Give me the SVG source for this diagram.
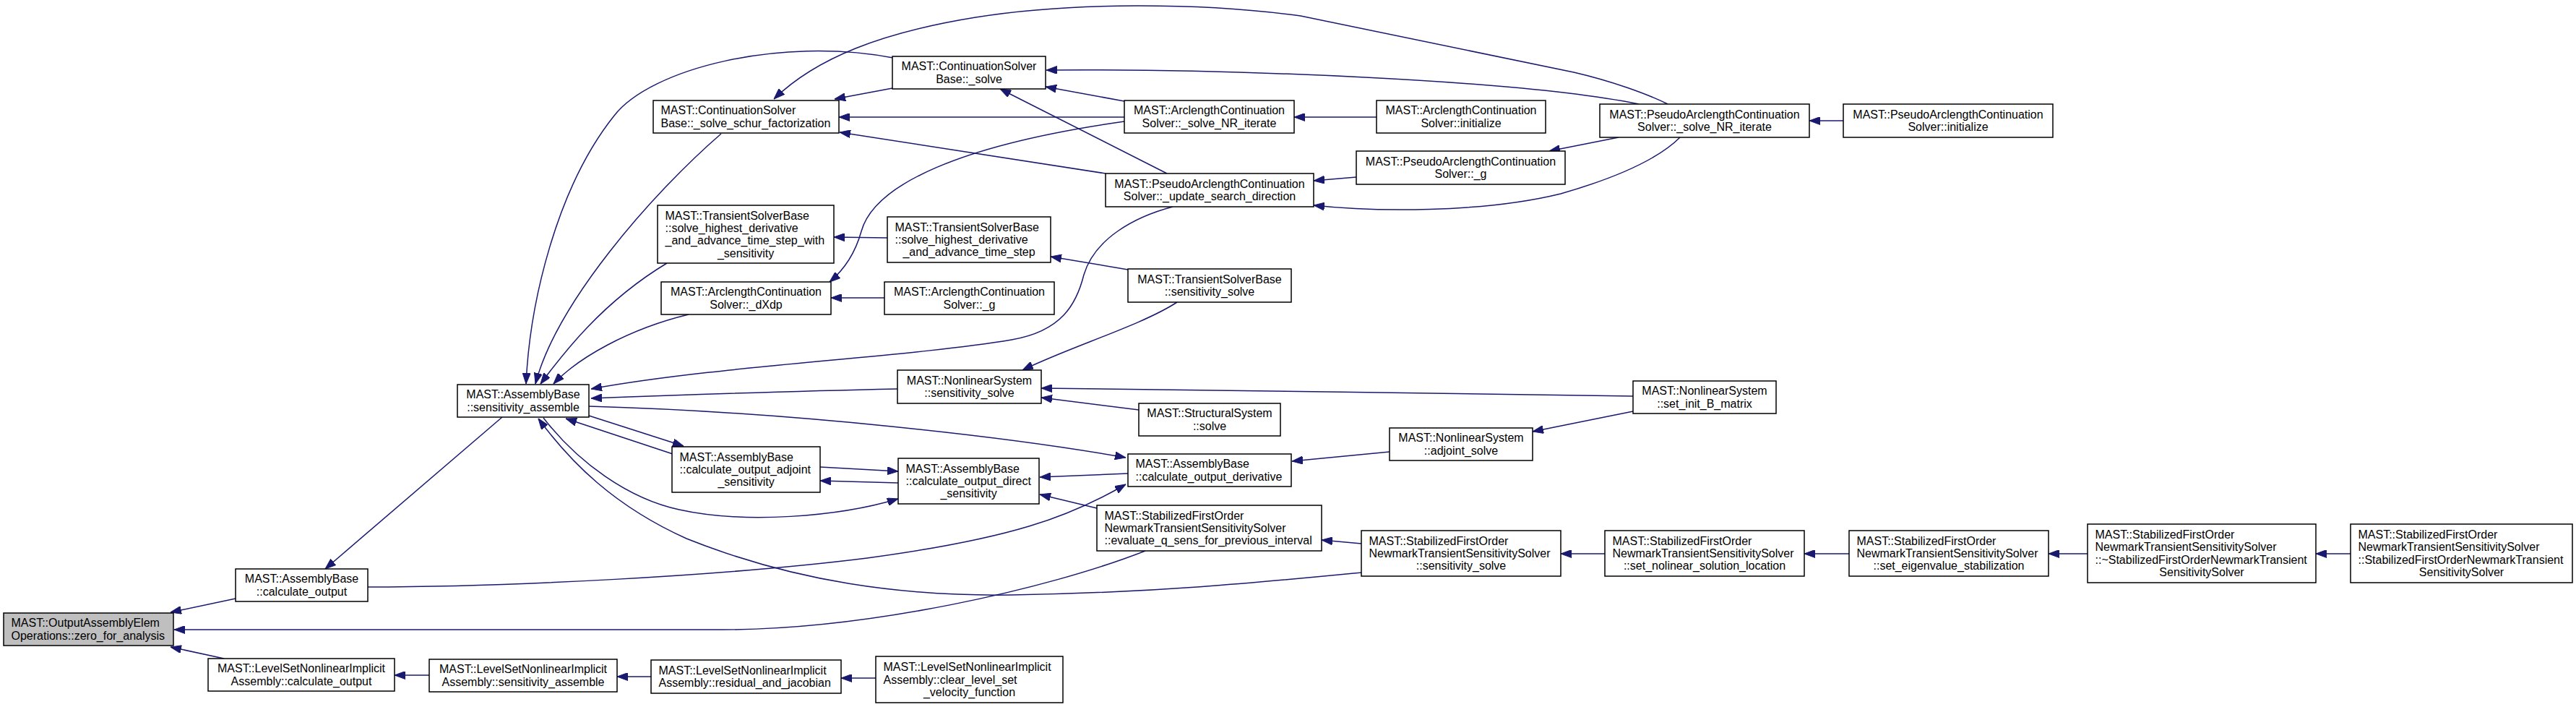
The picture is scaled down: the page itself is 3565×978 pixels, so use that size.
<svg xmlns="http://www.w3.org/2000/svg" width="3565" height="978" viewBox="0 0 3565 978">
<style>
.node rect{fill:#ffffff;stroke:#000000;stroke-width:1.5}
.main rect{fill:#bfbfbf}
text{font-family:"Liberation Sans",Arial,Helvetica,sans-serif;font-size:16px;fill:#000000}
.l{text-anchor:start}
.c{text-anchor:middle}
.edges path{fill:none;stroke:#191970;stroke-width:1.5;marker-start:url(#ah)}
</style>
<defs>
<marker id="ah" markerUnits="userSpaceOnUse" viewBox="0 0 15 11" markerWidth="15" markerHeight="11" refX="15" refY="5.5" orient="auto-start-reverse">
<path d="M0,0 L15,5.5 L0,11 z" fill="#191970" stroke="#191970" stroke-width="1"/>
</marker>
</defs>
<rect width="3565" height="978" fill="#ffffff"/>
<g id="edges" class="edges">
<path d="M236,847 L326,828"/>
<path d="M241,871 L1000,871 C1200,871 1450,815 1585,762"/>
<path d="M236,895 L310,911"/>
<path d="M546,934 L594,934"/>
<path d="M854,936 L901,936"/>
<path d="M1164,938 L1212,938"/>
<path d="M450,787 L695,577"/>
<path d="M1558,670 C1480,715 1400,745 1200,772 C1000,797 700,812 509,812"/>
<path d="M728,531 C733,420 770,260 850,160 C900,95 1080,50 1236,80"/>
<path d="M741,531 C770,420 900,270 998,185"/>
<path d="M748,531 C775,495 830,420 923,364"/>
<path d="M766,531 C800,495 870,455 953,435"/>
<path d="M818,538 C1000,505 1250,495 1400,470 C1470,458 1490,420 1500,380 C1515,330 1570,300 1623,286"/>
<path d="M818,551 C950,546 1100,541 1242,538"/>
<path d="M1558,633 C1400,605 1100,570 815,562"/>
<path d="M946,617 L815,575"/>
<path d="M783,579 L931,628"/>
<path d="M1243,690 C1160,715 1030,725 940,705 C870,690 800,640 752,578"/>
<path d="M745,579 C790,640 850,700 950,745 C1100,805 1250,825 1400,823 C1600,820 1750,805 1884,792"/>
<path d="M1243,652 L1135,646"/>
<path d="M1135,665 L1243,668"/>
<path d="M1439,660 L1561,655"/>
<path d="M1439,684 L1518,703"/>
<path d="M1788,638 L1923,625"/>
<path d="M2121,597 L2260,569"/>
<path d="M1441,537 C1700,539 2000,545 2260,548"/>
<path d="M1441,550 L1576,567"/>
<path d="M1415,512 C1480,480 1580,450 1629,418"/>
<path d="M1454,355 L1561,373"/>
<path d="M1154,328 L1228,329"/>
<path d="M1148,390 C1172,370 1185,345 1192,320 C1210,255 1330,200 1556,168"/>
<path d="M1150,412 L1224,412"/>
<path d="M1155,137 L1235,122"/>
<path d="M1161,162 L1556,162"/>
<path d="M1162,183 L1530,240"/>
<path d="M1071,137 C1130,80 1220,45 1350,24 C1480,3 1660,3 1800,22 L2178,100 C2230,112 2280,130 2308,144"/>
<path d="M1448,97 C1700,95 2100,110 2268,144"/>
<path d="M1447,120 L1556,140"/>
<path d="M1384,123 L1615,240"/>
<path d="M1791,162 L1905,162"/>
<path d="M1818,250 L1877,245"/>
<path d="M1818,284 C1900,293 2050,295 2160,268 C2240,245 2295,220 2325,190"/>
<path d="M2144,209 L2240,190"/>
<path d="M2504,167 L2551,167"/>
<path d="M1829,747 L1884,752"/>
<path d="M2160,766 L2221,766"/>
<path d="M2497,766 L2559,766"/>
<path d="M2835,766 L2889,766"/>
<path d="M3205,766 L3253,766"/>
</g>
<g id="n_zero" class="node main"><rect x="5" y="848" width="235" height="45"/><text class="l" x="15.5" y="867.4">MAST::OutputAssemblyElem</text><text class="l" x="15.5" y="884.7">Operations::zero_for_analysis</text></g>
<g id="n_calc_out" class="node"><rect x="326" y="787" width="183" height="45"/><text class="c" x="417.5" y="806.4">MAST::AssemblyBase</text><text class="c" x="417.5" y="823.7">::calculate_output</text></g>
<g id="n_ls_calc" class="node"><rect x="288" y="911" width="258" height="45"/><text class="c" x="417" y="930.4">MAST::LevelSetNonlinearImplicit</text><text class="c" x="417" y="947.7">Assembly::calculate_output</text></g>
<g id="n_sens_asm" class="node"><rect x="633" y="532" width="182" height="45"/><text class="c" x="724" y="551.4">MAST::AssemblyBase</text><text class="c" x="724" y="568.7">::sensitivity_assemble</text></g>
<g id="n_ls_sens" class="node"><rect x="594" y="912" width="260" height="45"/><text class="c" x="724" y="931.4">MAST::LevelSetNonlinearImplicit</text><text class="c" x="724" y="948.7">Assembly::sensitivity_assemble</text></g>
<g id="n_schur" class="node"><rect x="904" y="139" width="257" height="45"/><text class="l" x="914.5" y="158.4">MAST::ContinuationSolver</text><text class="l" x="914.5" y="175.7">Base::_solve_schur_factorization</text></g>
<g id="n_tsb_wsens" class="node"><rect x="910" y="284" width="244" height="80"/><text class="l" x="920.5" y="303.6">MAST::TransientSolverBase</text><text class="l" x="920.5" y="320.9">::solve_highest_derivative</text><text class="l" x="920.5" y="338.2">_and_advance_time_step_with</text><text class="c" x="1032" y="355.5">_sensitivity</text></g>
<g id="n_dxdp" class="node"><rect x="915" y="390" width="235" height="45"/><text class="c" x="1032.5" y="409.4">MAST::ArclengthContinuation</text><text class="c" x="1032.5" y="426.7">Solver::_dXdp</text></g>
<g id="n_adj_sens" class="node"><rect x="930" y="618" width="205" height="63"/><text class="l" x="940.5" y="637.7">MAST::AssemblyBase</text><text class="l" x="940.5" y="655">::calculate_output_adjoint</text><text class="c" x="1032.5" y="672.3">_sensitivity</text></g>
<g id="n_ls_resid" class="node"><rect x="901" y="913" width="263" height="46"/><text class="l" x="911.5" y="932.9">MAST::LevelSetNonlinearImplicit</text><text class="l" x="911.5" y="950.2">Assembly::residual_and_jacobian</text></g>
<g id="n_solve" class="node"><rect x="1235" y="78" width="212" height="45"/><text class="c" x="1341" y="97.4">MAST::ContinuationSolver</text><text class="c" x="1341" y="114.7">Base::_solve</text></g>
<g id="n_tsb_adv" class="node"><rect x="1228" y="300" width="226" height="63"/><text class="l" x="1238.5" y="319.7">MAST::TransientSolverBase</text><text class="l" x="1238.5" y="337">::solve_highest_derivative</text><text class="c" x="1341" y="354.3">_and_advance_time_step</text></g>
<g id="n_arc_g" class="node"><rect x="1224" y="390" width="235" height="45"/><text class="c" x="1341.5" y="409.4">MAST::ArclengthContinuation</text><text class="c" x="1341.5" y="426.7">Solver::_g</text></g>
<g id="n_nls_sens" class="node"><rect x="1242" y="512" width="199" height="46"/><text class="c" x="1341.5" y="531.9">MAST::NonlinearSystem</text><text class="c" x="1341.5" y="549.2">::sensitivity_solve</text></g>
<g id="n_dir_sens" class="node"><rect x="1243" y="634" width="195" height="63"/><text class="l" x="1253.5" y="653.7">MAST::AssemblyBase</text><text class="l" x="1253.5" y="671">::calculate_output_direct</text><text class="c" x="1340.5" y="688.3">_sensitivity</text></g>
<g id="n_ls_clear" class="node"><rect x="1212" y="908" width="259" height="64"/><text class="l" x="1222.5" y="928.2">MAST::LevelSetNonlinearImplicit</text><text class="l" x="1222.5" y="945.5">Assembly::clear_level_set</text><text class="c" x="1341.5" y="962.8">_velocity_function</text></g>
<g id="n_arc_nr" class="node"><rect x="1556" y="139" width="235" height="45"/><text class="c" x="1673.5" y="158.4">MAST::ArclengthContinuation</text><text class="c" x="1673.5" y="175.7">Solver::_solve_NR_iterate</text></g>
<g id="n_pa_upd" class="node"><rect x="1530" y="240" width="288" height="46"/><text class="c" x="1674" y="259.9">MAST::PseudoArclengthContinuation</text><text class="c" x="1674" y="277.2">Solver::_update_search_direction</text></g>
<g id="n_tsb_sens" class="node"><rect x="1561" y="372" width="226" height="46"/><text class="c" x="1674" y="391.9">MAST::TransientSolverBase</text><text class="c" x="1674" y="409.2">::sensitivity_solve</text></g>
<g id="n_struct" class="node"><rect x="1576" y="558" width="196" height="45"/><text class="c" x="1674" y="577.4">MAST::StructuralSystem</text><text class="c" x="1674" y="594.7">::solve</text></g>
<g id="n_deriv" class="node"><rect x="1561" y="628" width="226" height="45"/><text class="l" x="1571.5" y="647.4">MAST::AssemblyBase</text><text class="l" x="1571.5" y="664.7">::calculate_output_derivative</text></g>
<g id="n_evalq" class="node"><rect x="1518" y="699" width="311" height="63"/><text class="l" x="1528.5" y="718.7">MAST::StabilizedFirstOrder</text><text class="l" x="1528.5" y="736">NewmarkTransientSensitivitySolver</text><text class="l" x="1528.5" y="753.3">::evaluate_q_sens_for_previous_interval</text></g>
<g id="n_arc_init" class="node"><rect x="1905" y="139" width="234" height="45"/><text class="c" x="2022" y="158.4">MAST::ArclengthContinuation</text><text class="c" x="2022" y="175.7">Solver::initialize</text></g>
<g id="n_pa_g" class="node"><rect x="1877" y="209" width="289" height="46"/><text class="c" x="2021.5" y="228.9">MAST::PseudoArclengthContinuation</text><text class="c" x="2021.5" y="246.2">Solver::_g</text></g>
<g id="n_adj_solve" class="node"><rect x="1923" y="592" width="198" height="45"/><text class="c" x="2022" y="611.4">MAST::NonlinearSystem</text><text class="c" x="2022" y="628.7">::adjoint_solve</text></g>
<g id="n_sfo_sens" class="node"><rect x="1884" y="734" width="276" height="63"/><text class="l" x="1894.5" y="753.7">MAST::StabilizedFirstOrder</text><text class="l" x="1894.5" y="771">NewmarkTransientSensitivitySolver</text><text class="c" x="2022" y="788.3">::sensitivity_solve</text></g>
<g id="n_pa_nr" class="node"><rect x="2214" y="144" width="290" height="46"/><text class="c" x="2359" y="163.9">MAST::PseudoArclengthContinuation</text><text class="c" x="2359" y="181.2">Solver::_solve_NR_iterate</text></g>
<g id="n_setb" class="node"><rect x="2260" y="527" width="198" height="45"/><text class="c" x="2359" y="546.4">MAST::NonlinearSystem</text><text class="c" x="2359" y="563.7">::set_init_B_matrix</text></g>
<g id="n_sfo_nolin" class="node"><rect x="2221" y="734" width="276" height="63"/><text class="l" x="2231.5" y="753.7">MAST::StabilizedFirstOrder</text><text class="l" x="2231.5" y="771">NewmarkTransientSensitivitySolver</text><text class="c" x="2359" y="788.3">::set_nolinear_solution_location</text></g>
<g id="n_pa_init" class="node"><rect x="2551" y="144" width="290" height="46"/><text class="c" x="2696" y="163.9">MAST::PseudoArclengthContinuation</text><text class="c" x="2696" y="181.2">Solver::initialize</text></g>
<g id="n_sfo_eig" class="node"><rect x="2559" y="734" width="276" height="63"/><text class="l" x="2569.5" y="753.7">MAST::StabilizedFirstOrder</text><text class="l" x="2569.5" y="771">NewmarkTransientSensitivitySolver</text><text class="c" x="2697" y="788.3">::set_eigenvalue_stabilization</text></g>
<g id="n_sfo_dtor" class="node"><rect x="2889" y="725" width="316" height="81"/><text class="l" x="2899.5" y="745">MAST::StabilizedFirstOrder</text><text class="l" x="2899.5" y="762.3">NewmarkTransientSensitivitySolver</text><text class="l" x="2899.5" y="779.6">::~StabilizedFirstOrderNewmarkTransient</text><text class="c" x="3047" y="796.9">SensitivitySolver</text></g>
<g id="n_sfo_ctor" class="node"><rect x="3253" y="725" width="307" height="81"/><text class="l" x="3263.5" y="745">MAST::StabilizedFirstOrder</text><text class="l" x="3263.5" y="762.3">NewmarkTransientSensitivitySolver</text><text class="l" x="3263.5" y="779.6">::StabilizedFirstOrderNewmarkTransient</text><text class="c" x="3406.5" y="796.9">SensitivitySolver</text></g>
</svg>
